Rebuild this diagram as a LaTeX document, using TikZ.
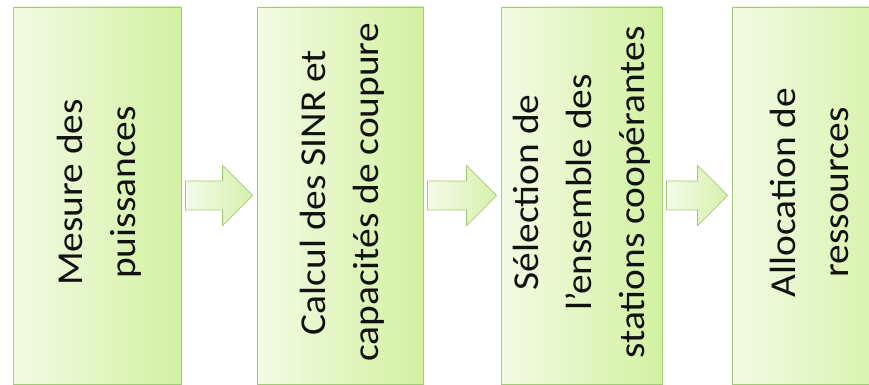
\documentclass[tikz,border=0pt]{standalone}
\usepackage{fontspec}
\setmainfont{Carlito}[FakeStretch=1.08]
\usetikzlibrary{calc,shadows}
\definecolor{boxL}{HTML}{F3FBE4}
\definecolor{boxR}{HTML}{D2F1A1}
\definecolor{boxB}{HTML}{A3CA78}
\definecolor{arrL}{HTML}{F4FBE8}
\definecolor{arrR}{HTML}{D6F1AC}
\definecolor{txt}{HTML}{111111}
\tikzset{
  stagebox/.style={draw=boxB, line width=0.8pt, left color=boxL, right color=boxR,
    minimum height=377pt, inner sep=0pt,
    drop shadow={opacity=0.18, shadow xshift=1.2pt, shadow yshift=-1.2pt}},
  stagetext/.style={rotate=90, align=center, inner sep=0pt, text=txt,
    font=\fontsize{36.5}{53}\selectfont},
  blockarrow/.style={draw=boxB, line width=0.8pt, left color=arrL, right color=arrR, line join=miter}
}
\newcommand{\stagearrow}[2]{%
  \draw[blockarrow] ($(#1.east)+(4pt,-14.5pt)$) -- ($(#1.east)+(4pt,14.5pt)$)
    -- ($(#2.west)+(-34pt,14.5pt)$) -- ($(#2.west)+(-34pt,30pt)$)
    -- ($(#2.west)+(-4pt,0pt)$) -- ($(#2.west)+(-34pt,-30pt)$)
    -- ($(#2.west)+(-34pt,-14.5pt)$) -- cycle;}
\begin{document}
\begin{tikzpicture}[x=1pt,y=1pt]
\useasboundingbox (0,0) rectangle (869,385);
\fill[white] (0,0) rectangle (869,385);
\node[stagebox, minimum width=168pt] (b1) at (97,189.5) {};
\node[stagebox, minimum width=166pt] (b2) at (340,189.5) {};
\node[stagebox, minimum width=161pt] (b3) at (581.5,189.5) {};
\node[stagebox, minimum width=180pt] (b4) at (822,189.5) {};
\node[stagetext] (t1) at ($(b1)+(2,3)$) {Mesure des\\puissances};
\node[stagetext] (t2) at ($(b2)+(2,3)$) {Calcul des SINR et\\capacités de coupure};
\node[stagetext] (t3) at ($(b3)+(0,3)$) {Sélection de\\l’ensemble des\\stations coopérantes};
\node[stagetext] (t4) at ($(b4.west)+(78,3)$) {Allocation de\\ressources};
\stagearrow{b1}{b2}
\stagearrow{b2}{b3}
\stagearrow{b3}{b4}
\end{tikzpicture}
\end{document}
